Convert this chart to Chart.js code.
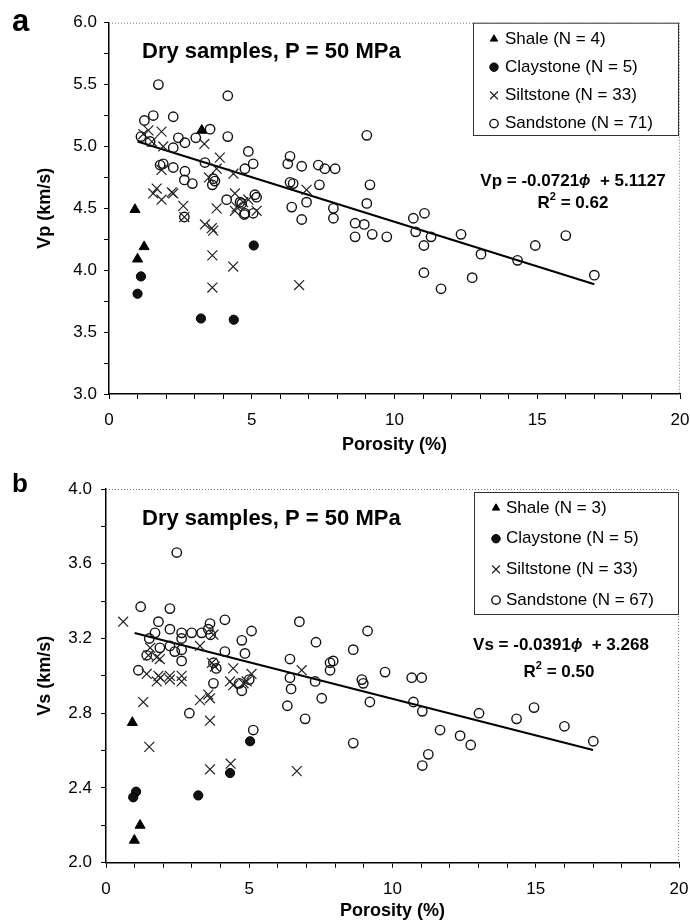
<!DOCTYPE html>
<html>
<head>
    <meta charset="utf-8">
    <title>Dry samples, P = 50 MPa</title>
    <script src="https://cdn.jsdelivr.net/npm/chart.js"></script>
    <style>
        body { margin: 0; background: #fff; }
        .panel { width: 690px; height: 461px; }
    </style>
</head>
<body>
    <div class="panel"><canvas id="chartA" width="690" height="461"></canvas></div>
    <div class="panel"><canvas id="chartB" width="690" height="461"></canvas></div>

    <script>
        const FONT = "'Liberation Sans', Arial, Helvetica, sans-serif";

        // ---- panel a: porosity (%) vs Vp (km/s) ----
        const shaleA = [[0.91, 4.49], [1.23, 4.19], [1.0, 4.09], [3.25, 5.13]];
        const claystoneA = [[1.12, 3.95], [1.0, 3.81], [5.07, 4.20], [3.22, 3.61], [4.37, 3.60]];
        const siltstoneA = [
            [1.38, 5.13], [1.84, 5.12], [1.9, 5.0], [1.5, 5.04], [3.34, 5.02], [3.88, 4.91], [3.77, 4.82],
            [4.36, 4.78], [1.84, 4.81], [1.67, 4.66], [2.2, 4.63], [4.41, 4.62], [1.55, 4.62], [1.84, 4.57],
            [2.25, 4.62], [2.6, 4.52], [3.77, 4.50], [4.47, 4.51], [4.88, 4.57], [5.17, 4.48], [2.64, 4.43],
            [3.36, 4.37], [3.6, 4.34], [3.65, 4.32], [3.62, 4.12], [4.35, 4.03], [3.62, 3.86], [6.66, 3.88],
            [6.92, 4.65], [4.41, 4.48], [1.2, 5.1], [3.5, 4.75], [4.7, 4.55]
        ];
        const sandstoneA = [
            [1.73, 5.50], [4.16, 5.41], [1.55, 5.25], [2.25, 5.24], [1.24, 5.21], [3.54, 5.14], [1.12, 5.08],
            [1.44, 5.04], [2.43, 5.07], [2.66, 5.03], [3.04, 5.07], [4.16, 5.08], [2.25, 4.99], [4.88, 4.96],
            [6.34, 4.92], [6.26, 4.86], [5.05, 4.86], [4.76, 4.82], [3.36, 4.87], [1.9, 4.86], [1.79, 4.85],
            [2.25, 4.83], [2.66, 4.80], [2.64, 4.73], [2.92, 4.70], [3.65, 4.74], [3.71, 4.72], [3.62, 4.69],
            [6.75, 4.84], [7.33, 4.85], [7.56, 4.82], [7.92, 4.82], [6.45, 4.70], [7.37, 4.69], [4.12, 4.57],
            [4.59, 4.55], [4.76, 4.46], [5.17, 4.59], [5.05, 4.46], [6.4, 4.51], [6.92, 4.55], [6.75, 4.41],
            [7.86, 4.50], [7.86, 4.42], [9.03, 4.54], [8.62, 4.38], [8.94, 4.37], [8.62, 4.27], [9.22, 4.29],
            [9.73, 4.27], [10.66, 4.42], [11.05, 4.46], [10.74, 4.31], [11.28, 4.27], [11.03, 4.20], [12.33, 4.29],
            [13.03, 4.13], [14.31, 4.08], [14.93, 4.20], [16.0, 4.28], [17.0, 3.96], [11.03, 3.98], [12.72, 3.94],
            [11.63, 3.85], [9.03, 5.09], [9.14, 4.69], [4.65, 4.54], [4.74, 4.45], [2.64, 4.43], [5.11, 4.61],
            [6.34, 4.71]
        ];
        const legendA = ['Shale (N = 4)', 'Claystone (N = 5)', 'Siltstone (N = 33)', 'Sandstone (N = 71)'];
        const fitA = [-0.0721, 5.1127];
        const r2A = 0.62;
        const yLabelsA = [3.0, 3.5, 4.0, 4.5, 5.0, 5.5, 6.0];

        // ---- panel b: porosity (%) vs Vs (km/s) ----
        const shaleB = [[0.92, 2.75], [1.19, 2.20], [0.99, 2.12]];
        const claystoneB = [[1.05, 2.38], [0.95, 2.35], [3.22, 2.36], [4.33, 2.48], [5.03, 2.65]];
        const siltstoneB = [
            [0.6, 3.29], [3.28, 3.16], [3.75, 3.22], [1.54, 3.15], [1.48, 3.11], [1.77, 3.10], [1.88, 3.09],
            [1.42, 3.01], [1.83, 3.00], [2.23, 3.0], [2.64, 3.0], [3.8, 3.05], [4.44, 3.04], [5.08, 3.01],
            [1.77, 2.97], [2.23, 2.98], [2.64, 2.97], [1.3, 2.86], [3.28, 2.87], [3.63, 2.88], [3.57, 2.90],
            [3.63, 2.76], [1.51, 2.62], [3.63, 2.50], [4.35, 2.53], [6.66, 2.49], [4.33, 2.97], [4.91, 2.97],
            [4.44, 2.95], [6.83, 3.03], [4.8, 2.96], [1.9, 2.99], [3.7, 3.07]
        ];
        const sandstoneB = [
            [2.47, 3.66], [1.21, 3.37], [2.23, 3.36], [1.83, 3.29], [2.23, 3.25], [1.71, 3.23], [2.64, 3.23],
            [2.64, 3.20], [2.99, 3.23], [3.34, 3.23], [3.63, 3.28], [3.57, 3.25], [4.15, 3.30], [5.08, 3.24],
            [4.74, 3.19], [6.75, 3.29], [7.33, 3.18], [1.42, 3.11], [1.88, 3.15], [2.23, 3.16], [2.64, 3.14],
            [2.64, 3.08], [4.15, 3.13], [4.85, 3.12], [1.13, 3.03], [3.75, 3.07], [3.75, 2.96], [4.65, 2.96],
            [6.42, 3.09], [6.42, 2.99], [7.3, 2.97], [7.82, 3.07], [7.82, 3.03], [7.93, 3.08], [9.13, 3.24],
            [8.63, 3.14], [9.74, 3.02], [10.67, 2.99], [11.02, 2.99], [8.93, 2.98], [8.98, 2.96], [9.21, 2.86],
            [10.73, 2.86], [11.04, 2.81], [8.63, 2.64], [13.02, 2.80], [14.33, 2.77], [14.94, 2.83], [16.0, 2.73],
            [17.01, 2.65], [11.66, 2.71], [12.36, 2.68], [12.73, 2.63], [11.25, 2.58], [11.04, 2.52], [2.91, 2.80],
            [4.74, 2.92], [5.14, 2.71], [6.33, 2.84], [6.46, 2.93], [6.95, 2.77], [7.53, 2.88], [1.51, 3.20],
            [3.65, 3.22], [5.0, 2.98], [2.4, 3.13], [3.85, 3.04]
        ];
        const legendB = ['Shale (N = 3)', 'Claystone (N = 5)', 'Siltstone (N = 33)', 'Sandstone (N = 67)'];
        const fitB = [-0.0391, 3.268];
        const r2B = 0.50;
        const yLabelsB = [2.0, 2.4, 2.8, 3.2, 3.6, 4.0];

        const fitRange = [1, 17];
        const xLabels = [0, 5, 10, 15, 20];

        function pts(list) {
            return list.map((p) => ({ x: p[0], y: p[1] }));
        }

        function isLabel(v, labels) {
            return labels.some((l) => Math.abs(l - v) < 1e-6);
        }

        // draws a row of text pieces with different fonts / offsets
        function drawRuns(ctx, runs, x, y, align) {
            let w = 0;
            runs.forEach((r) => { ctx.font = r.font; r.w = ctx.measureText(r.t).width; w += r.w; });
            let cx = align === 'center' ? x - w / 2 : x;
            runs.forEach((r) => { ctx.font = r.font; ctx.fillText(r.t, cx, y + (r.dy || 0)); cx += r.w; });
        }

        const panelText = {
            id: 'panelText',
            afterDraw(chart, args, o) {
                const ctx = chart.ctx;
                const a = chart.chartArea;
                ctx.save();

                // dotted top / right frame
                ctx.strokeStyle = '#777';
                ctx.lineWidth = 1;
                ctx.setLineDash([1, 2]);
                ctx.beginPath();
                ctx.moveTo(a.left, a.top + 0.5);
                ctx.lineTo(a.right - 0.5, a.top + 0.5);
                ctx.lineTo(a.right - 0.5, a.bottom);
                ctx.stroke();
                ctx.setLineDash([]);

                ctx.fillStyle = '#000';
                ctx.textBaseline = 'alphabetic';
                ctx.font = 'bold ' + o.letterSize + 'px ' + FONT;
                ctx.fillText(o.letter, 12, o.letterY);

                ctx.textBaseline = 'middle';
                ctx.font = 'bold 22px ' + FONT;
                ctx.fillText(o.note, o.noteX, o.noteY);

                // regression equation
                const b17 = 'bold 17px ' + FONT;
                drawRuns(ctx, [
                    { t: o.varName + ' = ' + o.fit[0] + '', font: b17 },
                    { t: '\u03d5', font: 'italic bold 15px ' + FONT },
                    { t: '  + ' + o.fit[1], font: b17 }
                ], o.eqX, o.eqY, 'center');
                drawRuns(ctx, [
                    { t: 'R', font: b17 },
                    { t: '2', font: 'bold 11px ' + FONT, dy: -6 },
                    { t: ' = ' + o.r2.toFixed(2), font: b17 }
                ], o.r2X, o.r2Y, 'center');

                // legend box
                const L = o.legend;
                ctx.fillStyle = '#fff';
                ctx.fillRect(L.x0, L.y0, L.x1 - L.x0, L.y1 - L.y0);
                ctx.strokeStyle = '#333';
                ctx.lineWidth = 1;
                ctx.strokeRect(L.x0 + 0.5, L.y0 + 0.5, L.x1 - L.x0 - 1, L.y1 - L.y0 - 1);
                ctx.font = '17px ' + FONT;
                for (let i = 0; i < 4; i++) {
                    const ds = chart.data.datasets[i];
                    const y = L.rowY + i * L.gap;
                    ctx.fillStyle = ds.backgroundColor || 'rgba(0,0,0,0)';
                    ctx.strokeStyle = ds.borderColor;
                    ctx.lineWidth = ds.borderWidth;
                    Chart.helpers.drawPoint(ctx, {
                        pointStyle: ds.pointStyle, rotation: 0,
                        radius: ds.pointStyle === 'crossRot' ? 5.5 : 4.2,
                        borderWidth: ds.borderWidth
                    }, L.markX, y);
                    ctx.fillStyle = '#000';
                    ctx.fillText(ds.label, L.textX, y);
                }
                ctx.restore();
            }
        };

        function buildChart(id, set, opt) {
            const ctx = document.getElementById(id).getContext('2d');
            return new Chart(ctx, {
                type: 'scatter',
                data: {
                    datasets: [
                        { label: set.legend[0], data: pts(set.shale), pointStyle: 'triangle', pointRadius: 5.8,
                          backgroundColor: '#000', borderColor: '#000', borderWidth: 1 },
                        { label: set.legend[1], data: pts(set.clay), pointStyle: 'circle', pointRadius: 4.6,
                          backgroundColor: '#111', borderColor: '#000', borderWidth: 1 },
                        { label: set.legend[2], data: pts(set.silt), pointStyle: 'crossRot', pointRadius: 7,
                          borderColor: '#222', borderWidth: 1.2 },
                        { label: set.legend[3], data: pts(set.sand), pointStyle: 'circle', pointRadius: 4.7,
                          backgroundColor: 'rgba(255,255,255,0)', borderColor: '#111', borderWidth: 1.4 },
                        { label: 'fit', data: fitRange.map((x) => ({ x: x, y: set.fit[0] * x + set.fit[1] })),
                          showLine: true, pointRadius: 0, borderColor: '#000', borderWidth: 2, fill: false }
                    ]
                },
                options: {
                    responsive: false,
                    animation: false,
                    layout: { padding: { left: 0, right: opt.padRight, top: opt.padTop, bottom: 0 } },
                    plugins: {
                        legend: { display: false },
                        tooltip: { enabled: false },
                        panelText: opt.text
                    },
                    scales: {
                        x: {
                            type: 'linear', min: 0, max: 20,
                            afterFit: (s) => {
                                s.height = opt.xHeight;
                                // the end labels fit inside the layout padding
                                s.paddingLeft = 0;
                                s.paddingRight = 0;
                            },
                            ticks: {
                                stepSize: 1, autoSkip: false, maxRotation: 0, padding: 11, color: '#000',
                                font: { family: FONT, size: 17 },
                                callback: (v) => (isLabel(v, xLabels) ? String(v) : '')
                            },
                            grid: { drawOnChartArea: false, drawTicks: true, tickLength: 5, color: '#000' },
                            border: { color: '#000', width: 1.5 },
                            title: { display: true, text: 'Porosity (%)', color: '#000',
                                     font: { family: FONT, size: 18, weight: 'bold' },
                                     padding: { top: 0, bottom: opt.xTitlePad } }
                        },
                        y: {
                            type: 'linear', min: set.yMin, max: set.yMax,
                            afterFit: (s) => {
                                s.width = opt.yWidth;
                                s.paddingTop = 0;
                                s.paddingBottom = 0;
                            },
                            ticks: {
                                stepSize: set.yStep, autoSkip: false, padding: opt.yTickPad, color: '#000',
                                font: { family: FONT, size: 17 },
                                callback: (v) => (isLabel(v, set.yLabels) ? v.toFixed(1) : '')
                            },
                            grid: { drawOnChartArea: false, drawTicks: true, tickLength: 5, color: '#000' },
                            border: { color: '#000', width: 1.5 },
                            title: { display: true, text: set.yTitle, color: '#000',
                                     font: { family: FONT, size: 18, weight: 'bold' },
                                     padding: { top: 34, bottom: 0 } }
                        }
                    }
                },
                plugins: [panelText]
            });
        }

        buildChart('chartA', {
            shale: shaleA, clay: claystoneA, silt: siltstoneA, sand: sandstoneA, legend: legendA,
            fit: fitA, yMin: 3, yMax: 6, yStep: 0.25, yLabels: yLabelsA, yTitle: 'Vp (km/s)'
        }, {
            padTop: 22.7, padRight: 10, xHeight: 67, yWidth: 109, yTickPad: 7, xTitlePad: 5,
            text: {
                letter: 'a', letterSize: 31, letterY: 31,
                note: 'Dry samples, P = 50 MPa', noteX: 142, noteY: 52,
                varName: 'Vp', fit: fitA, r2: r2A, eqX: 573, eqY: 181, r2X: 573, r2Y: 203,
                legend: { x0: 473, y0: 22.7, x1: 679, y1: 136, rowY: 39, gap: 28.2, markX: 494, textX: 505 }
            }
        });

        buildChart('chartB', {
            shale: shaleB, clay: claystoneB, silt: siltstoneB, sand: sandstoneB, legend: legendB,
            fit: fitB, yMin: 2, yMax: 4, yStep: 0.2, yLabels: yLabelsB, yTitle: 'Vs (km/s)'
        }, {
            padTop: 28, padRight: 11, xHeight: 59.3, yWidth: 106, yTickPad: 9, xTitlePad: 0,
            text: {
                letter: 'b', letterSize: 26, letterY: 31,
                note: 'Dry samples, P = 50 MPa', noteX: 142, noteY: 58,
                varName: 'Vs', fit: fitB, r2: r2B, eqX: 561, eqY: 184, r2X: 559, r2Y: 211,
                legend: { x0: 474, y0: 31, x1: 679, y1: 154, rowY: 47, gap: 30.7, markX: 496, textX: 506 }
            }
        });
    </script>
</body>
</html>
